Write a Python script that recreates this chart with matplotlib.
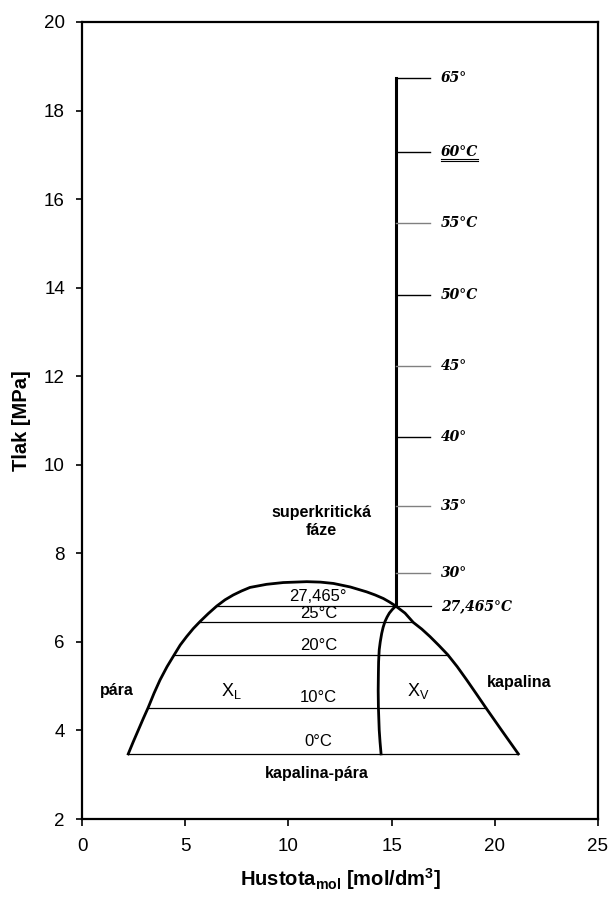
import matplotlib.pyplot as plt
from matplotlib.lines import Line2D

plt.rcParams["font.family"] = ["Liberation Sans", "DejaVu Sans"]
plt.rcParams["mathtext.fontset"] = "custom"
plt.rcParams["mathtext.rm"] = "Liberation Sans"
plt.rcParams["mathtext.bf"] = "Liberation Sans:bold"

# obálka dvoufázové oblasti (hustota [mol/dm3], tlak [MPa])
dome_rho = [2.24, 2.48, 2.73, 2.97, 3.21, 3.49, 3.78, 4.12, 4.47, 4.76, 5.07,
            5.39, 5.72, 6.12, 6.53, 6.93, 7.33, 7.73, 8.14, 8.94, 9.75, 10.89,
            11.55, 12.18, 13.0, 13.79, 14.2, 14.6, 14.9, 15.2,
            15.65, 16.05, 16.46, 16.86, 17.29, 17.72, 18.18, 18.64, 19.1,
            19.57, 20.35, 21.14]
dome_p = [3.47, 3.74, 4.01, 4.27, 4.52, 4.84, 5.14, 5.44, 5.71, 5.93, 6.12,
          6.30, 6.46, 6.64, 6.81, 6.95, 7.06, 7.15, 7.23, 7.30, 7.34, 7.36,
          7.35, 7.32, 7.24, 7.13, 7.06, 6.98, 6.90, 6.81,
          6.65, 6.44, 6.29, 6.12, 5.92, 5.71, 5.44, 5.14, 4.83,
          4.51, 3.99, 3.47]

# vnitřní křivka od kritického bodu dolů
inner_rho = [15.2, 15.03, 14.89, 14.78, 14.68, 14.59, 14.52, 14.45, 14.40,
             14.37, 14.36, 14.35, 14.36, 14.38, 14.40, 14.44, 14.49]
inner_p = [6.81, 6.73, 6.65, 6.56, 6.46, 6.33, 6.19, 6.00, 5.82,
           5.55, 5.29, 4.90, 4.54, 4.27, 4.01, 3.74, 3.47]

# spojovací přímky (izotermy v oblasti kapalina-pára)
tie_labels = ["27,465°", "25°C", "20°C", "10°C", "0°C"]
tie_p = [6.81, 6.44, 5.71, 4.51, 3.47]
tie_left = [6.53, 5.72, 4.47, 3.21, 2.24]
tie_right = [16.9, 16.05, 17.72, 19.57, 21.14]
tie_dy = [6.5, 6.5, 7.0, 7.5, 9.0]

# kritická izoterma v superkritické oblasti
crit_rho = 15.2
crit_p = [6.81, 18.74]

# značky teplot na kritické izotermě
iso_labels = ["65°", "60°C", "55°C", "50°C", "45°", "40°", "35°", "30°", "27,465°C"]
iso_p = [18.74, 17.07, 15.47, 13.83, 12.24, 10.62, 9.07, 7.56, 6.81]
iso_gray = [False, False, True, False, True, False, True, True, False]
iso_end = 16.88

fig = plt.figure(figsize=(6.12, 9.01), dpi=100)
ax = fig.add_axes([82 / 612, 1 - 819 / 901, 516 / 612, 797 / 901])

ax.plot(dome_rho, dome_p, color="black", lw=2.0, solid_joinstyle="round")
ax.plot(inner_rho, inner_p, color="black", lw=2.0, solid_joinstyle="round")
ax.plot([crit_rho, crit_rho], crit_p, color="black", lw=2.2)

for lab, p, x0, x1, dy in zip(tie_labels, tie_p, tie_left, tie_right, tie_dy):
    ax.plot([x0, x1], [p, p], color="black", lw=0.9)
    ax.annotate(lab, (11.45, p), xytext=(0, dy), textcoords="offset points",
                ha="center", va="center", fontsize=12)

iso_texts = []
for lab, p, gray in zip(iso_labels, iso_p, iso_gray):
    if p > tie_p[0]:
        ax.plot([crit_rho, iso_end], [p, p],
                color="#808080" if gray else "black", lw=1.0)
    t = ax.text(17.4, p, lab, ha="left", va="center", fontsize=10,
                family="DejaVu Serif", weight="bold", style="italic")
    iso_texts.append(t)

# popisky oblastí
ax.text(11.6, 8.71, "superkritická\nfáze", ha="center", va="center",
        fontsize=11.5, weight="bold", linespacing=1.25)
ax.text(1.7, 4.91, "pára", ha="center", va="center", fontsize=11.5,
        weight="bold")
ax.text(21.2, 5.08, "kapalina", ha="center", va="center", fontsize=11.5,
        weight="bold")
ax.text(11.4, 3.02, "kapalina-pára", ha="center", va="center",
        fontsize=11.5, weight="bold")
ax.text(7.25, 4.88, r"X$_{\mathrm{L}}$", ha="center", va="center", fontsize=13)
ax.text(16.3, 4.88, r"X$_{\mathrm{V}}$", ha="center", va="center", fontsize=13)

ax.set_xlim(0, 25)
ax.set_ylim(2, 20)
ax.set_xticks(range(0, 26, 5))
ax.set_yticks(range(2, 21, 2))
ax.tick_params(direction="out", width=1.2, labelsize=13.5)
ax.tick_params(axis="x", length=5, pad=8.5)
ax.tick_params(axis="y", length=4.3, pad=8)
for s in ax.spines.values():
    s.set_linewidth(1.6)

ax.set_ylabel("Tlak [MPa]", fontsize=14.5, weight="bold", labelpad=9)
ax.set_xlabel(r"Hustota$_{\mathbf{mol}}$ [mol/dm$^{\mathbf{3}}$]",
              fontsize=14.5, weight="bold", labelpad=8)

# dvojité podtržení popisku 60°C
fig.canvas.draw()
bb = iso_texts[1].get_window_extent()
for off in (0, 2):
    fig.add_artist(Line2D([bb.x0, bb.x1], [bb.y0 - off, bb.y0 - off],
                          transform=None, color="black", lw=0.8))

fig.savefig("out.png", dpi=100)
